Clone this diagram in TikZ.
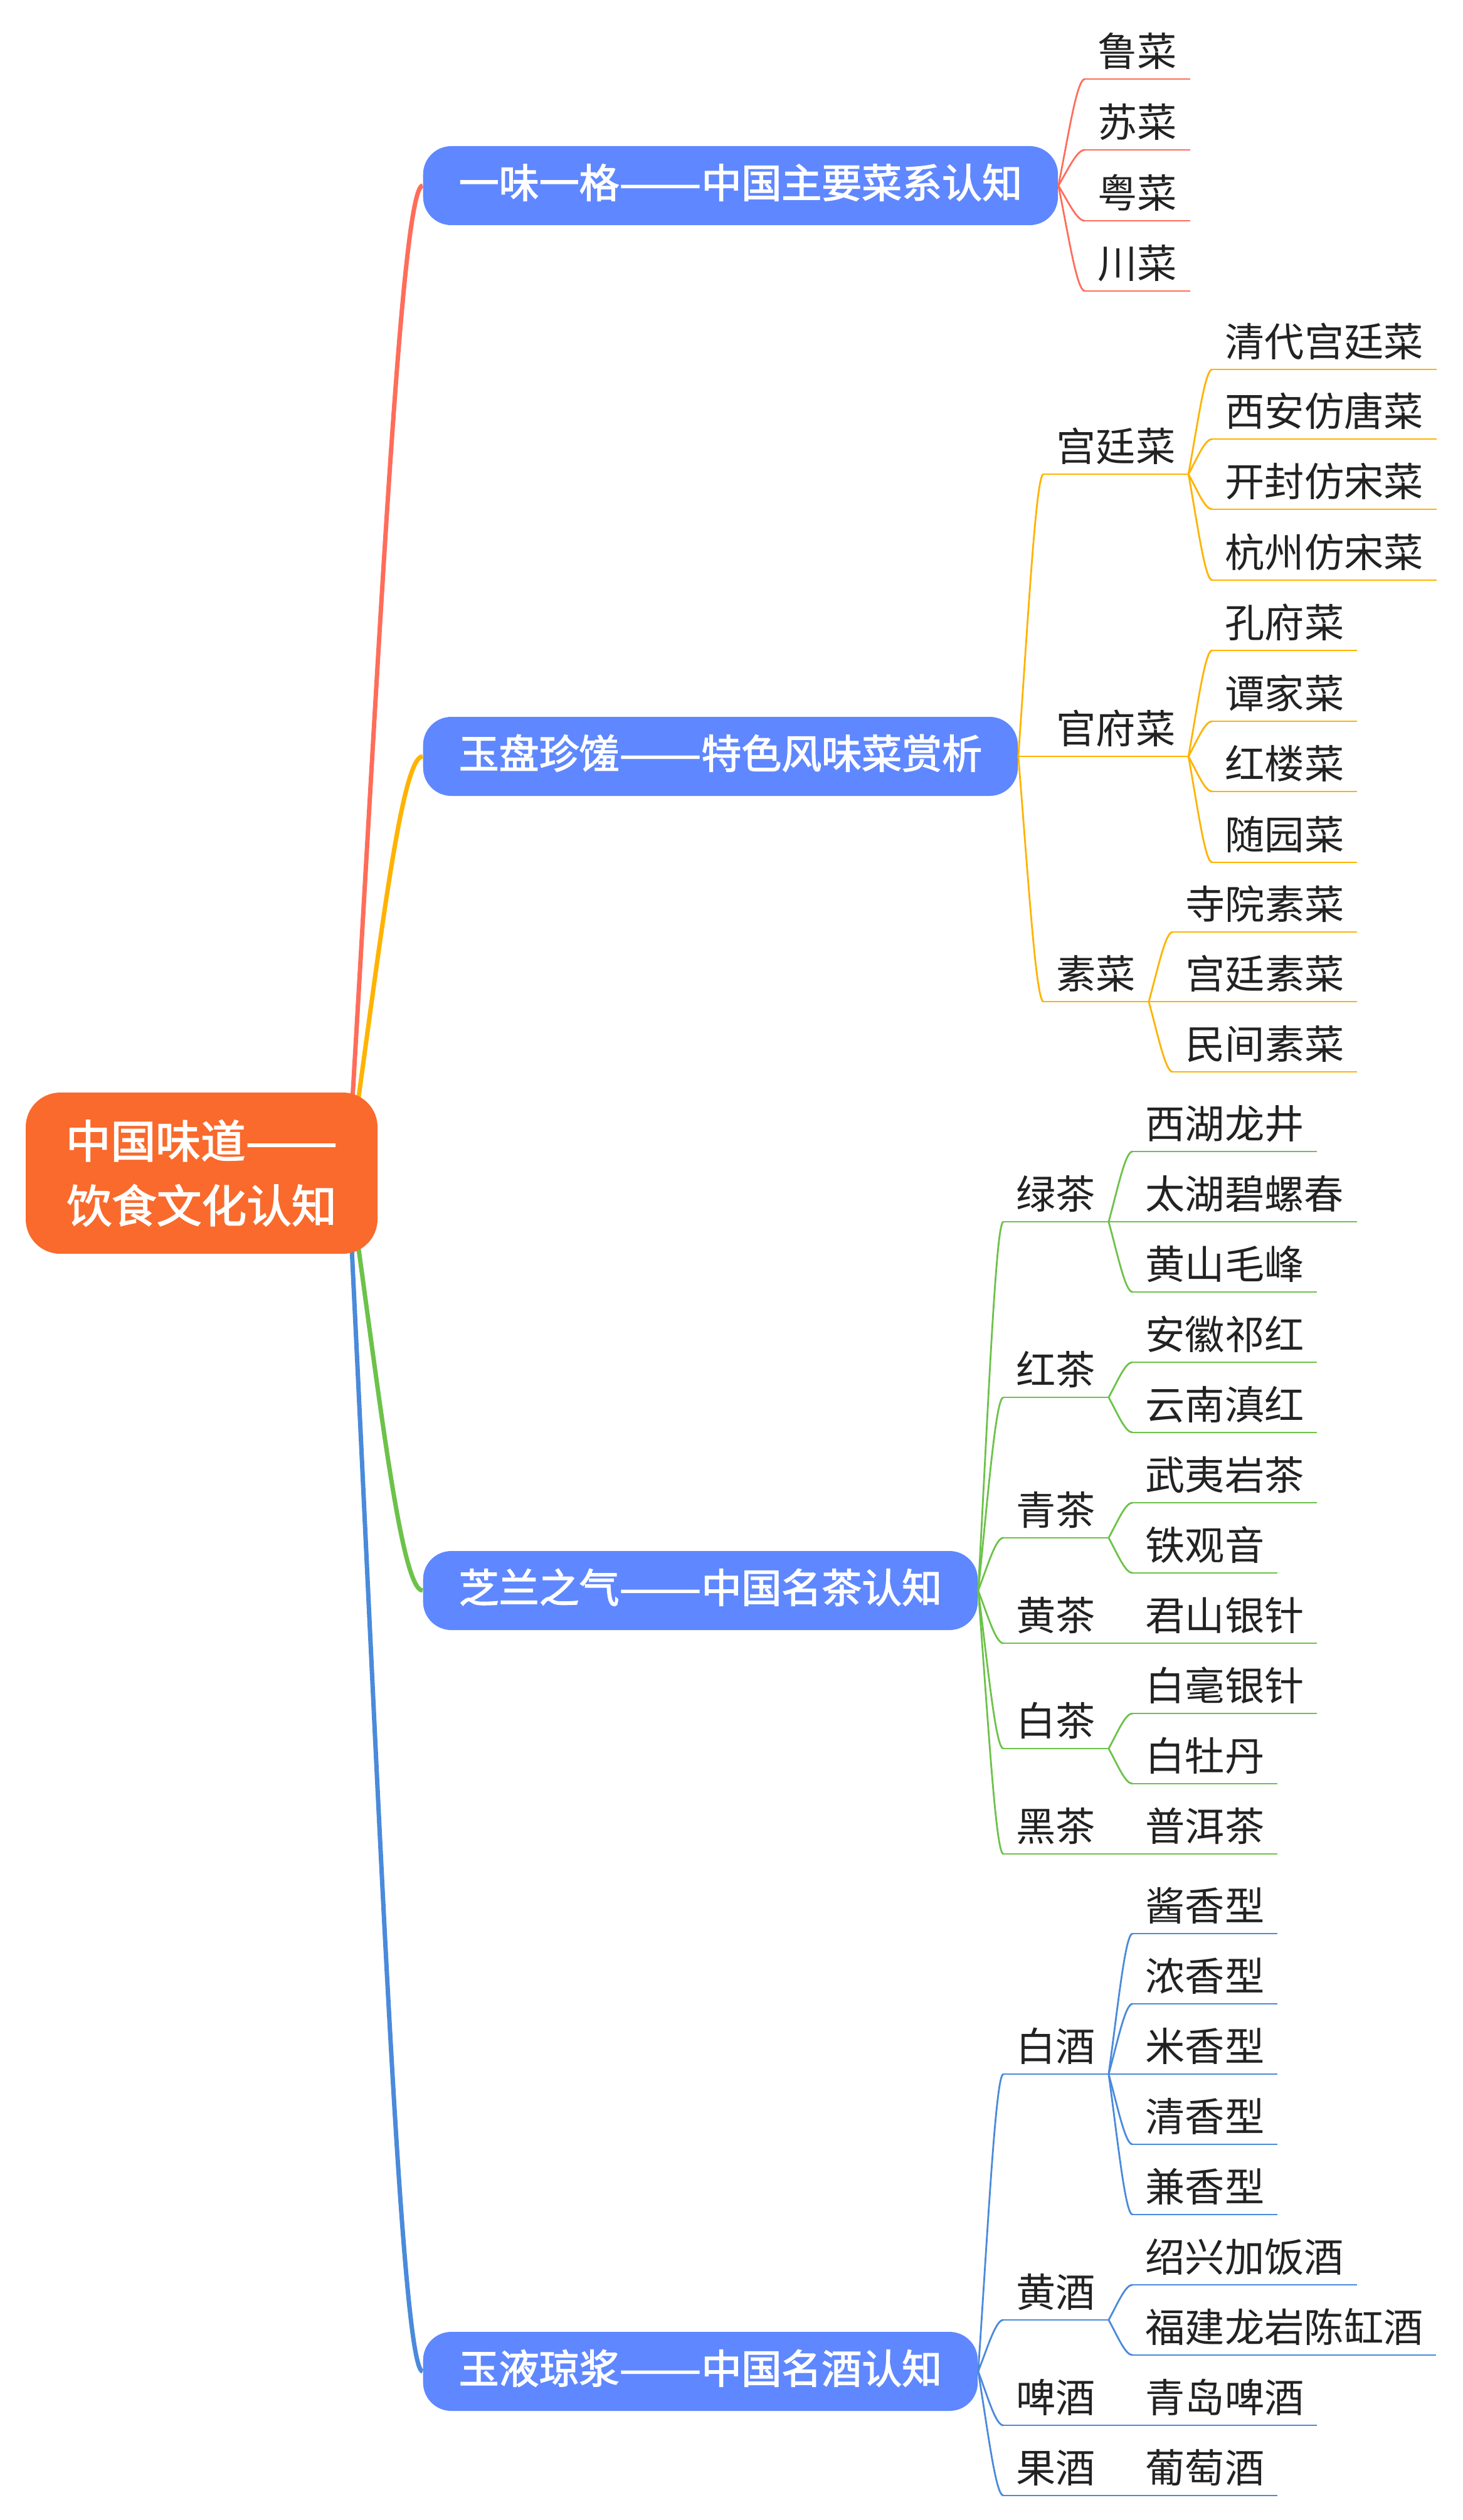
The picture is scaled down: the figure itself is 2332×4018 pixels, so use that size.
\documentclass[tikz,border=0pt]{standalone}
\usepackage{graphicx}
\usepackage{fontspec}
\setmainfont{Noto Sans CJK SC}
\newfontfamily\mediumfont{Noto Sans CJK SC}[BoldFont={Noto Sans CJK SC}, BoldFeatures={FakeBold=2.2}]
\newcommand\dashpair{\scalebox{1.22}[1]{——}}
\usetikzlibrary{calc}
\definecolor{rootorange}{HTML}{F96A2C}
\definecolor{topicblue}{HTML}{5F87FF}
\definecolor{redline}{HTML}{FF6D5A}
\definecolor{yellowline}{HTML}{FFB300}
\definecolor{greenline}{HTML}{6CC24A}
\definecolor{blueline}{HTML}{4A8ADB}
\definecolor{inkgray}{HTML}{222222}
\tikzset{
    core/.style={
        rounded corners=5.5mm,
        fill=rootorange,
        text=white,
        font=\mediumfont\bfseries\fontsize{20.4}{29.3}\selectfont,
        minimum width=56.1mm,
        minimum height=25.7mm,
        align=center
    },
    topic/.style={
        rounded corners=4.5mm,
        fill=topicblue,
        text=white,
        font=\mediumfont\bfseries\fontsize{18.2}{22}\selectfont,
        inner xsep=5.7mm,
        minimum height=12.6mm,
        text height=1.1em,
        text depth=0pt,
        anchor=west
    },
    item/.style={
        text=inkgray,
        font=\fontsize{18}{22}\selectfont,
        inner xsep=2mm,
        inner ysep=2mm,
        text height=0.8em,
        text depth=0pt,
        anchor=south west,
        append after command={(\tikzlastnode.south west) edge[twig] (\tikzlastnode.south east)}
    },
    curvy/.style={
        to path={let \p1=(\tikztostart), \p2=(\tikztotarget) in
            .. controls ({\x1+0.4*(\x2-\x1)},{\y1+0.5*(\y2-\y1)})
            and ({\x2-0.3*(\x2-\x1)},\y2) .. (\tikztotarget)}
    },
    bough/.style={line width=2pt, curvy},
    twig/.style={line width=0.8pt}
}

\begin{document}
\begin{tikzpicture}[x=0.1mm, y=-0.1mm]
\useasboundingbox (0,0) rectangle (2332,4018);
\coordinate (hub) at (555,1870);

% cuisine systems
\begin{scope}[color=redline]
    \node[topic] (cuisine) at (674,296) {一味一格\dashpair 中国主要菜系认知};
    \node[item] (lu) at (1730,126) {鲁菜};
    \node[item] (su) at (1730,239) {苏菜};
    \node[item] (yue) at (1730,352) {粤菜};
    \node[item] (chuan) at (1730,464) {川菜};
    \foreach \leaf in {lu,su,yue,chuan}
        \draw[twig, curvy] (cuisine.east) to (\leaf.south west);
    \draw[bough] (hub) to (cuisine.west);
\end{scope}

% special dishes
\begin{scope}[color=yellowline]
    \node[topic] (flavor) at (674,1206) {玉盘珍馐\dashpair 特色风味菜赏析};
    \node[item] (gongting) at (1664,756) {宫廷菜};
    \node[item] (guanfu) at (1664,1206) {官府菜};
    \node[item] (sucai) at (1664,1597) {素菜};

    \node[item] (qingdai) at (1933,589) {清代宫廷菜};
    \node[item] (xian) at (1933,700) {西安仿唐菜};
    \node[item] (kaifeng) at (1933,812) {开封仿宋菜};
    \node[item] (hangzhou) at (1933,925) {杭州仿宋菜};

    \node[item] (kongfu) at (1933,1037) {孔府菜};
    \node[item] (tanjia) at (1933,1150) {谭家菜};
    \node[item] (honglou) at (1933,1262) {红楼菜};
    \node[item] (suiyuan) at (1933,1375) {随园菜};

    \node[item] (siyuan) at (1870,1486) {寺院素菜};
    \node[item] (gongsu) at (1870,1597) {宫廷素菜};
    \node[item] (minjian) at (1870,1709) {民间素菜};

    \foreach \sub in {gongting,guanfu,sucai}
        \draw[twig, curvy] (flavor.east) to (\sub.south west);
    \foreach \leaf in {qingdai,xian,kaifeng,hangzhou}
        \draw[twig, curvy] (gongting.south east) to (\leaf.south west);
    \foreach \leaf in {kongfu,tanjia,honglou,suiyuan}
        \draw[twig, curvy] (guanfu.south east) to (\leaf.south west);
    \foreach \leaf in {siyuan,gongsu,minjian}
        \draw[twig, curvy] (sucai.south east) to (\leaf.south west);
    \draw[bough] (hub) to (flavor.west);
\end{scope}

% teas
\begin{scope}[color=greenline]
    \node[topic] (tea) at (674,2536) {芝兰之气\dashpair 中国名茶认知};
    \node[item] (lvcha) at (1600,1948) {绿茶};
    \node[item] (hongcha) at (1600,2228) {红茶};
    \node[item] (qingcha) at (1600,2452) {青茶};
    \node[item] (huangcha) at (1600,2620) {黄茶};
    \node[item] (baicha) at (1600,2788) {白茶};
    \node[item] (heicha) at (1600,2956) {黑茶};

    \node[item] (longjing) at (1806,1836) {西湖龙井};
    \node[item] (biluochun) at (1806,1948) {太湖碧螺春};
    \node[item] (maofeng) at (1806,2060) {黄山毛峰};
    \node[item] (qihong) at (1806,2172) {安徽祁红};
    \node[item] (dianhong) at (1806,2284) {云南滇红};
    \node[item] (yancha) at (1806,2396) {武夷岩茶};
    \node[item] (tieguanyin) at (1806,2508) {铁观音};
    \node[item] (junshan) at (1806,2620) {君山银针};
    \node[item] (baihao) at (1806,2732) {白毫银针};
    \node[item] (mudan) at (1806,2844) {白牡丹};
    \node[item] (puer) at (1806,2956) {普洱茶};

    \foreach \sub in {lvcha,hongcha,qingcha,huangcha,baicha,heicha}
        \draw[twig, curvy] (tea.east) to (\sub.south west);
    \foreach \leaf in {longjing,biluochun,maofeng}
        \draw[twig, curvy] (lvcha.south east) to (\leaf.south west);
    \foreach \leaf in {qihong,dianhong}
        \draw[twig, curvy] (hongcha.south east) to (\leaf.south west);
    \foreach \leaf in {yancha,tieguanyin}
        \draw[twig, curvy] (qingcha.south east) to (\leaf.south west);
    \draw[twig, curvy] (huangcha.south east) to (junshan.south west);
    \foreach \leaf in {baihao,mudan}
        \draw[twig, curvy] (baicha.south east) to (\leaf.south west);
    \draw[twig, curvy] (heicha.south east) to (puer.south west);
    \draw[bough] (hub) to (tea.west);
\end{scope}

% liquors
\begin{scope}[color=blueline]
    \node[topic] (wine) at (674,3781) {玉液琼浆\dashpair 中国名酒认知};
    \node[item] (baijiu) at (1600,3307) {白酒};
    \node[item] (huangjiu) at (1600,3699) {黄酒};
    \node[item] (pijiu) at (1600,3867) {啤酒};
    \node[item] (guojiu) at (1600,3979) {果酒};

    \node[item] (jiangxiang) at (1806,3083) {酱香型};
    \node[item] (nongxiang) at (1806,3195) {浓香型};
    \node[item] (mixiang) at (1806,3307) {米香型};
    \node[item] (qingxiang) at (1806,3419) {清香型};
    \node[item] (jianxiang) at (1806,3531) {兼香型};
    \node[item] (shaoxing) at (1806,3643) {绍兴加饭酒};
    \node[item] (fujian) at (1806,3755) {福建龙岩陈缸酒};
    \node[item] (qingdao) at (1806,3867) {青岛啤酒};
    \node[item] (putao) at (1806,3979) {葡萄酒};

    \foreach \sub in {baijiu,huangjiu,pijiu,guojiu}
        \draw[twig, curvy] (wine.east) to (\sub.south west);
    \foreach \leaf in {jiangxiang,nongxiang,mixiang,qingxiang,jianxiang}
        \draw[twig, curvy] (baijiu.south east) to (\leaf.south west);
    \foreach \leaf in {shaoxing,fujian}
        \draw[twig, curvy] (huangjiu.south east) to (\leaf.south west);
    \draw[twig, curvy] (pijiu.south east) to (qingdao.south west);
    \draw[twig, curvy] (guojiu.south east) to (putao.south west);
    \draw[bough] (hub) to (wine.west);
\end{scope}

\node[core] (root) at (321.5,1870.5) {中国味道\dashpair\\饮食文化认知};
\end{tikzpicture}
\end{document}
